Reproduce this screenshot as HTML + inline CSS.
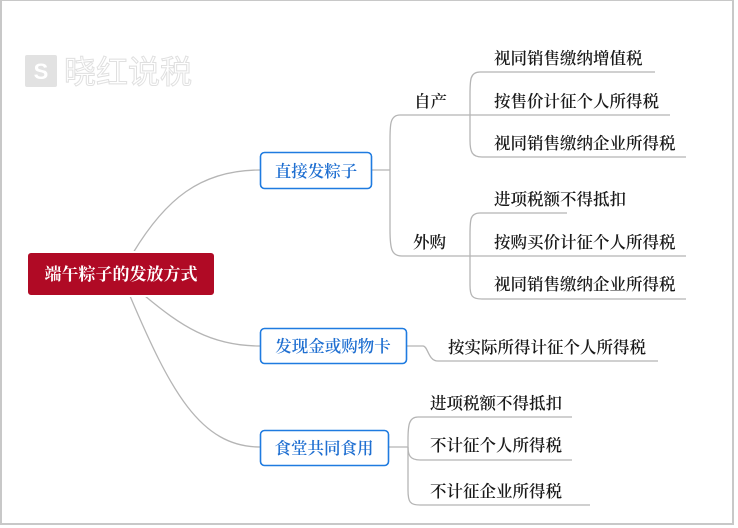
<!DOCTYPE html>
<html><head><meta charset="utf-8"><style>
html,body{margin:0;padding:0;background:#fff;}
svg{display:block;}
</style></head><body>
<svg width="738" height="528" viewBox="0 0 738 528" xmlns="http://www.w3.org/2000/svg">
<rect x="1" y="0" width="732" height="524" fill="#fff" stroke="#c8c8c8" stroke-width="2"/>
<!-- watermark -->
<rect x="25" y="55" width="32" height="32" rx="2" fill="#e2e2e2"/>
<text x="41" y="79" text-anchor="middle" font-family="Liberation Sans,sans-serif" font-size="22" font-weight="bold" fill="#fff">S</text>
<text x="64" y="83" font-family="Liberation Sans,'Noto Sans CJK SC',sans-serif" font-size="32" fill="#fff" stroke="#e0e0e0" stroke-width="1">晓红说税</text>

<g fill="none" stroke="#b5b5b5" stroke-width="1.3">
<path d="M133,253 C165,200 200,170 260,170"/>
<path d="M145,296 C180,325 210,346 260,346"/>
<path d="M130,296 C170,390 200,447 260,447"/>
<path d="M372,170 L390,170"/>
<path d="M400,115 C390,115 390,125 390,140 L390,230 C390,250 392,256 402,256 L470,256"/>
<path d="M400,115 L470,115"/>
<path d="M480,72 C470,72 470,80 470,95 L470,140 C470,152 472,157 482,157 L686,157"/>
<path d="M480,72 L655,72"/>
<path d="M470,115 L670,115"/>
<path d="M480,213 C470,213 470,220 470,235 L470,285 C470,296 472,299 482,299 L686,299"/>
<path d="M480,213 L567,213"/>
<path d="M470,256 L686,256"/>
<path d="M407,346 L423,346 C428,346 428,361 438,361 L658,361"/>
<path d="M389,447 L408,447"/>
<path d="M418,417 C409,417 408,425 408,440 L408,490 C408,502 410,505 420,505 L590,505"/>
<path d="M418,417 L572,417"/>
<path d="M408,447 C408,455 410,460 420,460 L572,460"/>
</g>

<!-- root -->
<rect x="27" y="252" width="188" height="44" rx="4" fill="#b00a25" stroke="#fff" stroke-width="2"/>
<text x="121" y="280" text-anchor="middle" font-family="'Noto Serif CJK SC',serif" font-size="17" font-weight="bold" fill="#fff">端午粽子的发放方式</text>

<g font-family="'Noto Serif CJK SC',serif" font-size="16.5" fill="#1f6fd1" font-weight="600" text-anchor="middle">
<rect x="260.5" y="152.5" width="111" height="36" rx="4" fill="#fff" stroke="#1f7be0" stroke-width="1.6"/>
<text x="316" y="177">直接发粽子</text>
<rect x="260.5" y="328.5" width="146" height="35" rx="4" fill="#fff" stroke="#1f7be0" stroke-width="1.6"/>
<text x="333" y="352">发现金或购物卡</text>
<rect x="260.5" y="430.5" width="128" height="35" rx="4" fill="#fff" stroke="#1f7be0" stroke-width="1.6"/>
<text x="324" y="454">食堂共同食用</text>
</g>

<g font-family="'Noto Serif CJK SC',serif" font-size="16.5" fill="#1a1a1a" font-weight="600">
<text x="414" y="107">自产</text>
<text x="413" y="248">外购</text>
<text x="494" y="64">视同销售缴纳增值税</text>
<text x="494" y="107">按售价计征个人所得税</text>
<text x="494" y="149">视同销售缴纳企业所得税</text>
<text x="494" y="205">进项税额不得抵扣</text>
<text x="494" y="248">按购买价计征个人所得税</text>
<text x="494" y="290">视同销售缴纳企业所得税</text>
<text x="448" y="353">按实际所得计征个人所得税</text>
<text x="430" y="409">进项税额不得抵扣</text>
<text x="430" y="451">不计征个人所得税</text>
<text x="430" y="497">不计征企业所得税</text>
</g>
</svg>
</body></html>
